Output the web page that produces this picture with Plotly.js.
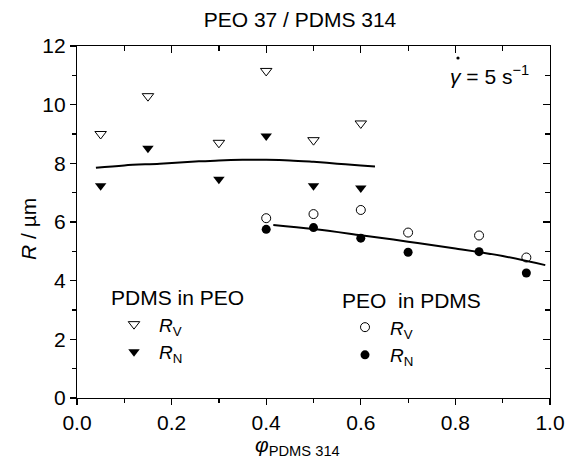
<!DOCTYPE html>
<html>
<head>
<meta charset="utf-8">
<script src="https://cdn.plot.ly/plotly-3.0.1.min.js"></script>
<style>html,body{margin:0;padding:0;background:#fff;}#chart{width:565px;height:460px;}</style>
</head>
<body>
<div id="chart"></div>
<script>
// PDMS in PEO (triangles)
const phiPdmsInPeo = [0.05, 0.15, 0.30, 0.40, 0.50, 0.60];
const rvPdmsInPeo  = [9.00, 10.29, 8.70, 11.15, 8.79, 9.36];
const rnPdmsInPeo  = [7.24, 8.51, 7.46, 8.93, 7.24, 7.16];
// PEO in PDMS (circles)
const phiPeoInPdms = [0.40, 0.50, 0.60, 0.70, 0.85, 0.95];
const rvPeoInPdms  = [6.13, 6.27, 6.41, 5.64, 5.54, 4.79];
const rnPeoInPdms  = [5.75, 5.81, 5.45, 4.97, 4.99, 4.26];
// fitted curves
const fitUpperX = [0.04, 0.10, 0.175, 0.25, 0.30, 0.35, 0.40, 0.45, 0.50, 0.55, 0.60, 0.63];
const fitUpperY = [7.85, 7.93, 7.99, 8.06, 8.10, 8.12, 8.12, 8.10, 8.05, 7.99, 7.93, 7.89];
const fitLowerX = [0.415, 0.50, 0.60, 0.70, 0.80, 0.90, 0.99];
const fitLowerY = [5.90, 5.76, 5.55, 5.33, 5.10, 4.84, 4.53];

const FONT = 'Liberation Sans, Arial, Helvetica, sans-serif';
const FS = 21;
const FL = 19;

const traces = [
  {x: fitUpperX, y: fitUpperY, mode: 'lines', line: {color: '#000', width: 2, shape: 'spline'}, showlegend: false, hoverinfo: 'skip'},
  {x: fitLowerX, y: fitLowerY, mode: 'lines', line: {color: '#000', width: 2, shape: 'spline'}, showlegend: false, hoverinfo: 'skip'},
  {x: phiPdmsInPeo, y: rvPdmsInPeo, mode: 'markers', name: '<i>R</i><sub>V</sub>', legend: 'legend',
   marker: {symbol: 'triangle-down-open', size: 10, color: '#000', line: {width: 1, color: '#000'}}},
  {x: phiPdmsInPeo, y: rnPdmsInPeo, mode: 'markers', name: '<i>R</i><sub>N</sub>', legend: 'legend',
   marker: {symbol: 'triangle-down', size: 10, color: '#000'}},
  {x: phiPeoInPdms, y: rvPeoInPdms, mode: 'markers', name: '<i>R</i><sub>V</sub>', legend: 'legend2',
   marker: {symbol: 'circle-open', size: 9, color: '#000', line: {width: 1, color: '#000'}}},
  {x: phiPeoInPdms, y: rnPeoInPdms, mode: 'markers', name: '<i>R</i><sub>N</sub>', legend: 'legend2',
   marker: {symbol: 'circle', size: 9, color: '#000'}},
  // invisible trace to carry the mirrored top/right axes
  {x: [0, 1], y: [0, 12], xaxis: 'x2', yaxis: 'y2', mode: 'markers', marker: {opacity: 0}, showlegend: false, hoverinfo: 'skip'}
];

const axisCommon = {showgrid: false, zeroline: false, showline: true, linecolor: '#000', linewidth: 1.2,
  tickcolor: '#000', tickwidth: 1.2, tickfont: {family: FONT, size: FS, color: '#000'}};

// overdot of gamma-dot, placed in pixel offsets from the plot's top-left
const dotX = (458-77)/473, dotY = 1 - (58-46)/352;

const layout = {
  width: 565, height: 460,
  margin: {l: 77, r: 15, t: 46, b: 62},
  paper_bgcolor: '#fff', plot_bgcolor: '#fff',
  font: {family: FONT, color: '#000'},
  title: {text: 'PEO 37 / PDMS 314', font: {family: FONT, size: FS, color: '#000'},
          xref: 'container', x: 300/565, xanchor: 'center', yref: 'container', y: 1 - 20/460, yanchor: 'middle'},
  xaxis: Object.assign({}, axisCommon, {range: [0, 1], dtick: 0.2, tick0: 0, tickformat: '.1f',
          ticks: 'outside', ticklen: 6, minor: {dtick: 0.1, ticks: 'outside', ticklen: 4, tickcolor: '#000', tickwidth: 1.2}}),
  yaxis: Object.assign({}, axisCommon, {range: [0, 12], dtick: 2, tick0: 0,
          ticks: 'outside', ticklen: 6, minor: {dtick: 1, ticks: 'outside', ticklen: 4, tickcolor: '#000', tickwidth: 1.2}}),
  xaxis2: Object.assign({}, axisCommon, {overlaying: 'x', side: 'top', range: [0, 1], dtick: 0.2, tick0: 0,
          showticklabels: false, ticks: 'inside', ticklen: 7, minor: {dtick: 0.1, ticks: 'inside', ticklen: 5, tickcolor: '#000', tickwidth: 1.2}}),
  yaxis2: Object.assign({}, axisCommon, {overlaying: 'y', side: 'right', range: [0, 12], dtick: 2, tick0: 0,
          showticklabels: false, ticks: 'inside', ticklen: 7, minor: {dtick: 1, ticks: 'inside', ticklen: 5, tickcolor: '#000', tickwidth: 1.2}}),
  legend: {x: (109-77)/473, y: 1 - (278-46)/352, xanchor: 'left', yanchor: 'top', bgcolor: 'rgba(0,0,0,0)', itemwidth: 40,
           font: {family: FONT, size: FL, color: '#000'}, title: {text: 'PDMS in PEO', font: {family: FONT, size: FS, color: '#000'}, side: 'top'},
           itemclick: false, itemdoubleclick: false},
  legend2: {x: (340-77)/473, y: 1 - (281-46)/352, xanchor: 'left', yanchor: 'top', bgcolor: 'rgba(0,0,0,0)', itemwidth: 40,
           font: {family: FONT, size: FL, color: '#000'}, title: {text: 'PEO&nbsp; in PDMS', font: {family: FONT, size: FS, color: '#000'}, side: 'top'},
           itemclick: false, itemdoubleclick: false},
  shapes: [
    {type: 'circle', xref: 'paper', yref: 'paper', xsizemode: 'pixel', ysizemode: 'pixel',
     xanchor: dotX, yanchor: dotY, x0: -1.6, x1: 1.6, y0: -1.6, y1: 1.6,
     fillcolor: '#000', line: {width: 0}}
  ],
  annotations: [
    {xref: 'paper', yref: 'paper', x: (448-77)/473, y: 1 - (75-46)/352, xanchor: 'left', yanchor: 'middle', showarrow: false,
     text: '<i>γ</i> = 5 s<sup>−1</sup>', font: {family: FONT, size: FS, color: '#000'}},
    {xref: 'paper', yref: 'paper', x: (297-77)/473, y: 1 - (446-46)/352, xanchor: 'center', yanchor: 'middle', showarrow: false,
     text: '<i>φ</i><sub>PDMS 314</sub>', font: {family: FONT, size: FS, color: '#000'}},
    {xref: 'paper', yref: 'paper', x: -(77-28)/473, y: 1 - (229-46)/352, xanchor: 'center', yanchor: 'middle', showarrow: false, textangle: -90,
     text: '<i>R</i> / µm', font: {family: FONT, size: FS, color: '#000'}}
  ]
};

Plotly.newPlot('chart', traces, layout, {staticPlot: true, displayModeBar: false});
</script>
</body>
</html>
